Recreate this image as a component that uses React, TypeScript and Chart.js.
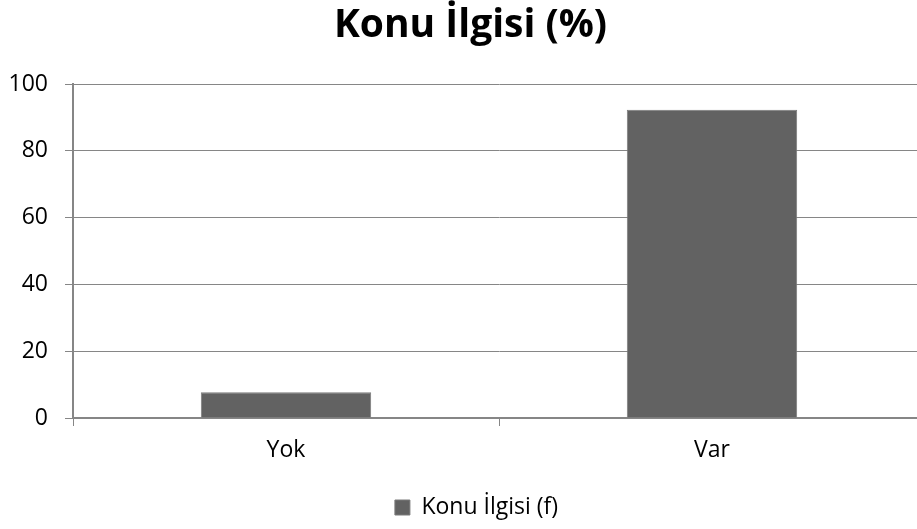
import React, { useEffect, useRef } from "react";
import { Chart, registerables } from "chart.js";

Chart.register(...registerables);

const categories = ["Yok", "Var"];
const seriesName = "Konu İlgisi (f)";
const seriesValues = [7.7, 92.3];
const titleText = "Konu İlgisi (%)";
const yMin = 0;
const yMax = 100;
const yStep = 20;

const FONT = "'Open Sans', 'DejaVu Sans', sans-serif";
const GRID = "#868686";

// nudges the title and legend boxes horizontally (the original chart is wider than the picture)
const shiftBlocks = {
  id: "shiftBlocks",
  afterLayout(chart: any) {
    const t = chart.titleBlock;
    if (t) {
      t.left += 8;
      t.right += 8;
    }
    const l = chart.legend;
    if (l) {
      l.left += 14;
      l.right += 14;
    }
  },
};

export default function App() {
  const ref = useRef<HTMLCanvasElement | null>(null);

  useEffect(() => {
    if (!ref.current) return;
    const chart = new Chart(ref.current, {
      type: "bar",
      data: {
        labels: categories,
        datasets: [
          {
            label: seriesName,
            data: seriesValues,
            backgroundColor: "#626262",
            borderColor: "#7a7a7a",
            borderWidth: 1,
            categoryPercentage: 1,
            barPercentage: 0.4,
          },
        ],
      },
      plugins: [shiftBlocks],
      options: {
        responsive: false,
        animation: false,
        layout: { padding: { left: 0, right: 19, top: 0, bottom: 0 } },
        plugins: {
          tooltip: { enabled: false },
          title: {
            display: true,
            text: titleText,
            color: "#000",
            font: { family: FONT, size: 39, weight: "bold" },
            padding: { top: 2, bottom: 35.2 },
          },
          legend: {
            display: true,
            position: "bottom",
            labels: {
              color: "#000",
              font: { family: FONT, size: 23 },
              boxWidth: 15,
              boxHeight: 15,
              padding: 10,
            },
          },
        },
        scales: {
          x: {
            offset: true,
            grid: {
              display: true,
              offset: true,
              drawOnChartArea: false,
              drawTicks: true,
              tickLength: 8,
              color: GRID,
            },
            border: { display: true, color: GRID, width: 2 },
            ticks: {
              color: "#000",
              font: { family: FONT, size: 23 },
              padding: 11,
            },
            afterFit: (scale: any) => {
              scale.height = 68;
            },
          },
          y: {
            min: yMin,
            max: yMax,
            grid: {
              display: true,
              color: GRID,
              tickLength: 8,
              drawTicks: true,
            },
            border: { display: true, color: GRID, width: 2 },
            ticks: {
              stepSize: yStep,
              color: "#000",
              font: { family: FONT, size: 23 },
              padding: 17,
            },
            afterFit: (scale: any) => {
              scale.width = 73;
            },
          },
        },
      },
    });
    return () => chart.destroy();
  }, []);

  return (
    <div
      style={{
        position: "fixed",
        left: 0,
        top: 0,
        width: 917,
        height: 529,
        overflow: "hidden",
        background: "#fff",
      }}
    >
      <canvas ref={ref} width={944} height={529} style={{ display: "block" }} />
    </div>
  );
}
